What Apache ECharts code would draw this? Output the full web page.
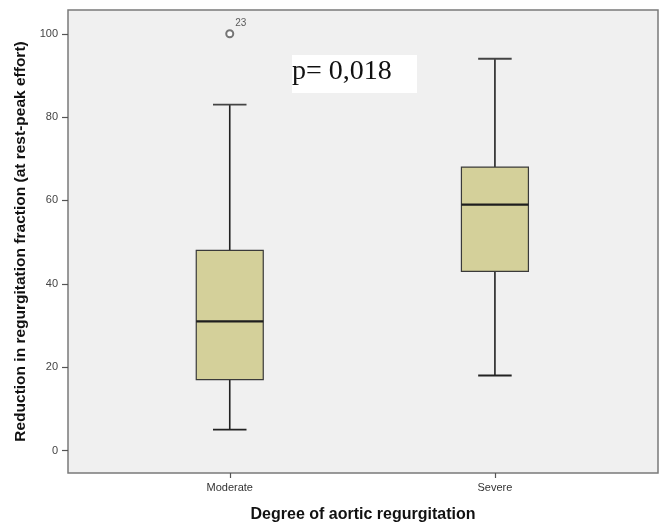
<!DOCTYPE html>
<html>
<head>
<meta charset="utf-8">
<script src="https://cdn.jsdelivr.net/npm/echarts@6/dist/echarts.min.js"></script>
<style>html,body{margin:0;padding:0;background:#fff}#c{width:664px;height:522px}</style>
</head>
<body>
<div id="c"></div>
<script>
// Categories and box statistics [min, Q1, median, Q3, max]
var categories = ['Moderate', 'Severe'];
var categoryPos = [1, 2];
var boxMin = [5, 18];
var boxQ1 = [17, 43];
var boxMedian = [31, 59];
var boxQ3 = [48, 68];
var boxMax = [83, 94];
// Outliers: [category position, value, case label]
var outlierPos = [1];
var outlierValues = [100];
var outlierLabels = ['23'];
var yTicks = [0, 20, 40, 60, 80, 100];
var pText = 'p= 0,018';

var boxData = categoryPos.map(function (p, i) {
  return [p, boxMin[i], boxQ1[i], boxMedian[i], boxQ3[i], boxMax[i]];
});
var outlierData = outlierPos.map(function (p, i) {
  return { value: [p, outlierValues[i]], label: { formatter: outlierLabels[i] } };
});

var chart = echarts.init(document.getElementById('c'), null, { renderer: 'canvas' });
var BOX_W = 67;

function renderBox(params, api) {
  var x = api.value(0);
  var pMin = api.coord([x, api.value(1)]);
  var pQ1 = api.coord([x, api.value(2)]);
  var pMed = api.coord([x, api.value(3)]);
  var pQ3 = api.coord([x, api.value(4)]);
  var pMax = api.coord([x, api.value(5)]);
  var cx = pMed[0];
  var hw = BOX_W / 2, cw = BOX_W / 4;
  var lineStyle = { stroke: '#222', lineWidth: 1.6 };
  return {
    type: 'group',
    children: [
      { type: 'line', shape: { x1: cx, y1: pMax[1], x2: cx, y2: pQ3[1] }, style: lineStyle },
      { type: 'line', shape: { x1: cx, y1: pMin[1], x2: cx, y2: pQ1[1] }, style: lineStyle },
      { type: 'line', shape: { x1: cx - cw, y1: pMax[1], x2: cx + cw, y2: pMax[1] }, style: { stroke: '#444', lineWidth: 1.8 } },
      { type: 'line', shape: { x1: cx - cw, y1: pMin[1], x2: cx + cw, y2: pMin[1] }, style: { stroke: '#222', lineWidth: 1.8 } },
      { type: 'rect', shape: { x: cx - hw, y: pQ3[1], width: BOX_W, height: pQ1[1] - pQ3[1] },
        style: { fill: '#d4d09a', stroke: '#3a3a3a', lineWidth: 1.2 } },
      { type: 'line', shape: { x1: cx - hw, y1: pMed[1], x2: cx + hw, y2: pMed[1] }, style: { stroke: '#1e1e1e', lineWidth: 2.2 } }
    ]
  };
}

chart.setOption({
  animation: false,
  backgroundColor: '#ffffff',
  grid: {
    left: 68, right: 6, top: 10, bottom: 49,
    containLabel: false, outerBoundsMode: 'none',
    show: true, backgroundColor: '#f0f0f0', borderColor: '#7a7a7a', borderWidth: 1.5
  },
  xAxis: {
    type: 'value', min: 0.39, max: 2.615,
    splitLine: { show: false },
    axisLine: { show: false, onZero: false },
    axisTick: { show: true, customValues: categoryPos, length: 5, lineStyle: { color: '#555', width: 1.2 } },
    axisLabel: {
      customValues: categoryPos, margin: 9,
      formatter: function (v) { var i = categoryPos.indexOf(v); return i >= 0 ? categories[i] : ''; },
      fontFamily: 'Liberation Sans, Arial, sans-serif', fontSize: 11, color: '#333'
    },
    name: 'Degree of aortic regurgitation', nameLocation: 'middle', nameGap: 34,
    nameTextStyle: { fontFamily: 'Liberation Sans, Arial, sans-serif', fontSize: 16, fontWeight: 'bold', color: '#111' }
  },
  yAxis: {
    type: 'value', min: -5.4, max: 105.7,
    splitLine: { show: false },
    axisLine: { show: false, onZero: false },
    axisTick: { show: true, customValues: yTicks, length: 6, lineStyle: { color: '#555', width: 1.2 } },
    axisLabel: {
      customValues: yTicks, margin: 10,
      fontFamily: 'Liberation Sans, Arial, sans-serif', fontSize: 11, color: '#444'
    },
    name: 'Reduction in regurgitation fraction (at rest-peak effort)', nameLocation: 'middle', nameGap: 33,
    nameTextStyle: { fontFamily: 'Liberation Sans, Arial, sans-serif', fontSize: 15.5, fontWeight: 'bold', color: '#111' }
  },
  graphic: [
    { type: 'rect', left: 292, top: 55, shape: { width: 125, height: 38 }, style: { fill: '#ffffff' }, z: 10 },
    { type: 'text', left: 292, top: 58, style: { text: pText, font: '28px "Liberation Serif", "Times New Roman", serif', fill: '#111' }, z: 11 }
  ],
  series: [
    { type: 'custom', renderItem: renderBox, data: boxData, encode: { x: 0, y: [1, 2, 3, 4, 5] } },
    {
      type: 'scatter', data: outlierData, symbol: 'emptyCircle', symbolSize: 7,
      itemStyle: { color: '#555', borderWidth: 1 },
      label: { show: true, position: [10, -11], fontSize: 10, color: '#333', fontFamily: 'Liberation Sans, Arial, sans-serif' }
    }
  ]
});
</script>
</body>
</html>
